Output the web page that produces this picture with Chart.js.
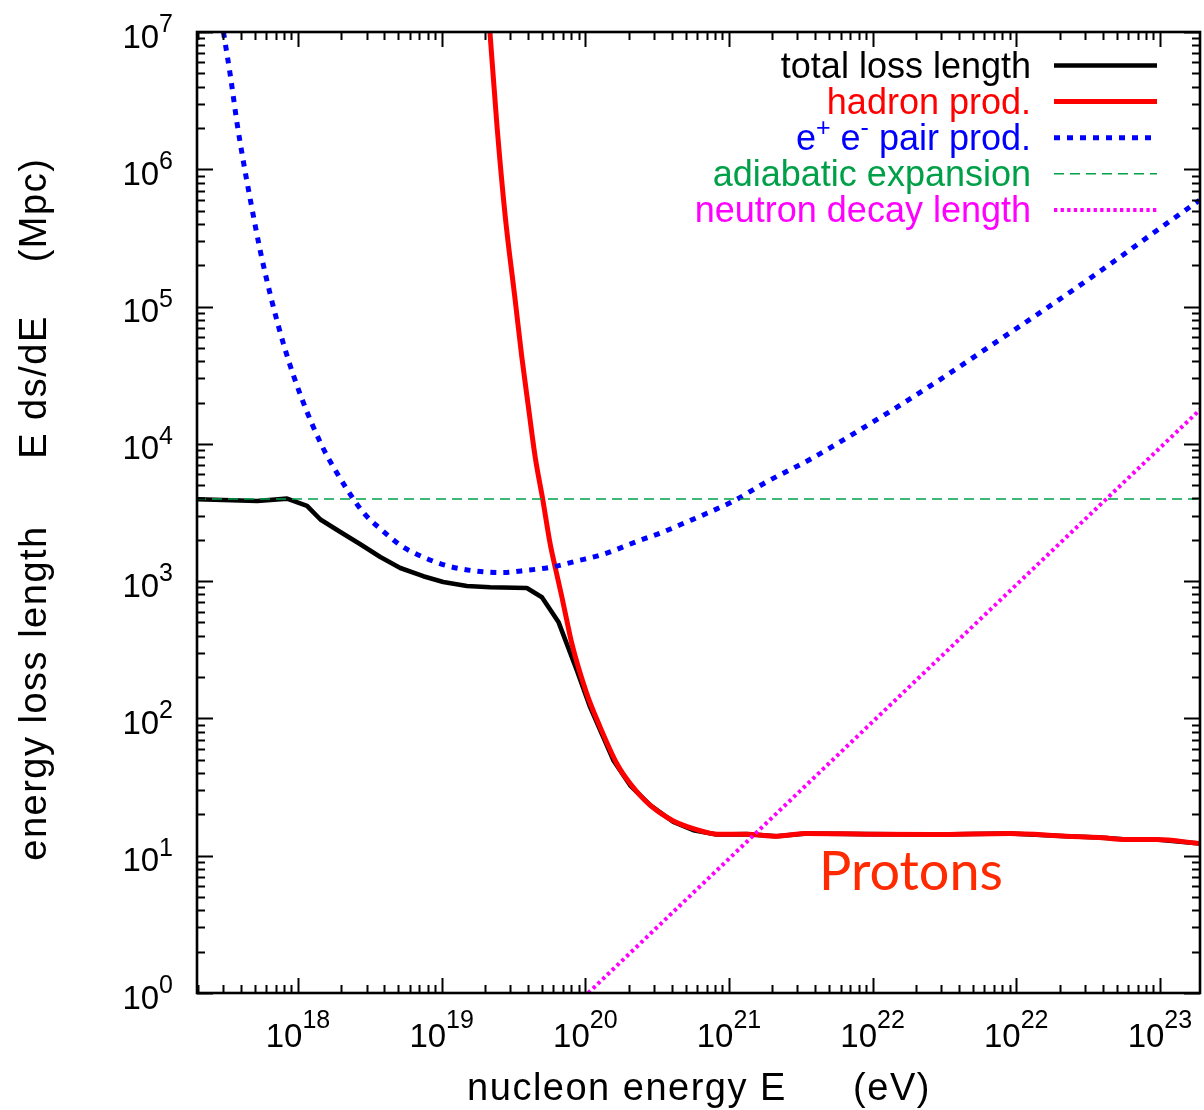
<!DOCTYPE html>
<html>
<head>
<meta charset="utf-8">
<title>Proton energy loss length</title>
<script src="https://cdn.jsdelivr.net/npm/chart.js@4.4.0/dist/chart.umd.min.js"></script>
<style>
  html, body { margin: 0; padding: 0; background: #fff; }
  #wrap { width: 1204px; height: 1110px; }
</style>
</head>
<body>
<div id="wrap"><canvas id="lossChart" width="1204" height="1110"></canvas></div>
<script>
// energies are log10(E / eV), lengths are log10(L / Mpc)
const totalLogE = [17.30, 17.716, 17.924, 18.063, 18.156, 18.295, 18.434, 18.573, 18.712, 18.872,
  19.011, 19.176, 19.338, 19.593, 19.698, 19.813, 19.941, 20.033, 20.195, 20.312, 20.451, 20.613,
  20.752, 20.914, 21.123, 21.332, 21.540, 21.958, 22.421, 22.954, 23.348, 23.580, 23.766, 23.974, 24.275];
const totalLogL = [3.596, 3.584, 3.601, 3.548, 3.449, 3.358, 3.269, 3.176, 3.096, 3.036,
  2.994, 2.965, 2.956, 2.950, 2.883, 2.703, 2.351, 2.084, 1.696, 1.513, 1.368, 1.246,
  1.186, 1.154, 1.157, 1.142, 1.162, 1.157, 1.154, 1.162, 1.142, 1.133, 1.118, 1.118, 1.089];

const hadronLogE = [19.334, 19.385, 19.442, 19.512, 19.558, 19.604, 19.651, 19.704, 19.755, 19.790,
  19.837, 19.871, 19.906, 20.010, 20.103, 20.219, 20.312, 20.451, 20.613, 20.752, 20.926, 21.123,
  21.332, 21.540, 21.958, 22.421, 22.954, 23.348, 23.580, 23.766, 23.974, 24.275];
const hadronLogL = [7.03, 6.320, 5.664, 5.046, 4.633, 4.269, 3.905, 3.594, 3.274, 3.103,
  2.885, 2.715, 2.546, 2.181, 1.938, 1.672, 1.526, 1.368, 1.253, 1.198, 1.157, 1.157,
  1.142, 1.162, 1.157, 1.154, 1.162, 1.142, 1.133, 1.118, 1.118, 1.089];

const pairLogE = [17.481, 17.530, 17.577, 17.622, 17.669, 17.739, 17.820, 17.912, 18.029, 18.168,
  18.260, 18.353, 18.457, 18.585, 18.724, 18.886, 19.048, 19.234, 19.419, 19.593, 19.767, 19.941,
  20.126, 20.369, 20.532, 20.706, 20.868, 21.030, 21.262, 21.575, 21.888, 22.201, 22.497, 22.792,
  23.093, 23.394, 23.684, 23.974, 24.275];
const pairLogL = [7.0, 6.677, 6.328, 6.044, 5.774, 5.398, 5.033, 4.682, 4.323, 3.983,
  3.808, 3.650, 3.497, 3.371, 3.254, 3.169, 3.109, 3.074, 3.063, 3.079, 3.103, 3.147,
  3.196, 3.293, 3.354, 3.431, 3.504, 3.582, 3.723, 3.893, 4.087, 4.288, 4.487, 4.694,
  4.905, 5.119, 5.332, 5.551, 5.774];

const adiabaticLogE = [17.29, 24.28];
const adiabaticLogL = [3.598, 3.598];

const neutronLogE = [20.02, 24.28];
const neutronLogL = [0.0, 4.25];

const xTickValues = [1e18, 1e19, 1e20, 1e21, 1e22, 1e23, 1e24];
const xTickExps = ['18', '19', '20', '21', '22', '22', '23'];
const yTickValues = [1e0, 1e1, 1e2, 1e3, 1e4, 1e5, 1e6, 1e7];
const yTickExps = ['0', '1', '2', '3', '4', '5', '6', '7'];

const FONT = '"Liberation Sans", Arial, Helvetica, sans-serif';

function toPoints(logE, logL) {
  return logE.map((e, i) => ({ x: Math.pow(10, e), y: Math.pow(10, logL[i]) }));
}

const series = [
  { label: 'total loss length', text: 'total loss length', data: toPoints(totalLogE, totalLogL),
    color: '#000000', width: 4.6, dash: [], smooth: false, order: 5 },
  { label: 'hadron prod.', text: 'hadron prod.', data: toPoints(hadronLogE, hadronLogL),
    color: '#ff0000', width: 5, dash: [], smooth: true, order: 4 },
  { label: 'e+ e- pair prod.', text: 'e^+ e^- pair prod.', data: toPoints(pairLogE, pairLogL),
    color: '#0000ff', width: 5, dash: [6, 7], smooth: true, order: 3 },
  { label: 'adiabatic expansion', text: 'adiabatic expansion', data: toPoints(adiabaticLogE, adiabaticLogL),
    color: '#00a048', width: 1.5, dash: [10, 6], smooth: false, order: 2 },
  { label: 'neutron decay length', text: 'neutron decay length', data: toPoints(neutronLogE, neutronLogL),
    color: '#ff00ff', width: 4, dash: [3.3, 3.3], smooth: false, order: 1 }
];

// text with one-character superscripts marked by '^'
function drawRuns(ctx, text, x, y, size, supSize, raise, align) {
  const runs = [];
  for (let i = 0; i < text.length; i++) {
    if (text[i] === '^') { runs.push({ t: text[i + 1], sup: true }); i++; }
    else if (runs.length && !runs[runs.length - 1].sup) runs[runs.length - 1].t += text[i];
    else runs.push({ t: text[i], sup: false });
  }
  let total = 0;
  runs.forEach(r => {
    ctx.font = (r.sup ? supSize : size) + 'px ' + FONT;
    r.w = ctx.measureText(r.t).width;
    total += r.w;
  });
  let cx = align === 'right' ? x - total : align === 'center' ? x - total / 2 : x;
  ctx.textAlign = 'left';
  ctx.textBaseline = 'alphabetic';
  runs.forEach(r => {
    ctx.font = (r.sup ? supSize : size) + 'px ' + FONT;
    ctx.fillText(r.t, cx, r.sup ? y - raise : y);
    cx += r.w;
  });
}

const framePlugin = {
  id: 'framePlugin',
  afterDraw(chart) {
    const ctx = chart.ctx;
    const a = chart.chartArea;
    const xs = chart.scales.x;
    const ys = chart.scales.y;
    ctx.save();

    // tick marks on all four sides, pointing inwards
    ctx.strokeStyle = '#000';
    ctx.lineWidth = 2;
    ctx.setLineDash([]);
    ctx.beginPath();
    for (let d = 17; d <= 24; d++) {
      for (let m = 1; m <= 9; m++) {
        const v = m * Math.pow(10, d);
        if (v < xs.min || v > xs.max) continue;
        const px = Math.round(xs.getPixelForValue(v)) + 0.5;
        const len = m === 1 ? 15 : 8;
        ctx.moveTo(px, a.bottom); ctx.lineTo(px, a.bottom - len);
        ctx.moveTo(px, a.top); ctx.lineTo(px, a.top + len);
      }
    }
    for (let d = 0; d <= 7; d++) {
      for (let m = 1; m <= 9; m++) {
        const v = m * Math.pow(10, d);
        if (v < ys.min || v > ys.max) continue;
        const py = Math.round(ys.getPixelForValue(v)) + 0.5;
        const len = m === 1 ? 16 : 8;
        ctx.moveTo(a.left, py); ctx.lineTo(a.left + len, py);
        ctx.moveTo(a.right, py); ctx.lineTo(a.right - len, py);
      }
    }
    ctx.stroke();

    // frame
    ctx.lineWidth = 2.6;
    ctx.strokeRect(a.left, a.top, a.right - a.left, a.bottom - a.top);

    // tick labels
    ctx.fillStyle = '#000';
    xTickValues.forEach((v, i) => {
      const px = xs.getPixelForValue(v);
      drawRuns(ctx, '10^' + xTickExps[i][0] + '^' + xTickExps[i][1], px, 1046.5, 33, 25, 18.5, 'center');
    });
    yTickValues.forEach((v, i) => {
      const py = ys.getPixelForValue(v);
      drawRuns(ctx, '10^' + yTickExps[i], 173, py + 15.5, 33, 25, 15.5, 'right');
    });

    // axis titles
    ctx.font = '38px ' + FONT;
    ctx.letterSpacing = '1.5px';
    ctx.textAlign = 'center';
    ctx.textBaseline = 'alphabetic';
    ctx.fillText('nucleon energy E', 627, 1100);
    ctx.fillText('(eV)', 892, 1100);
    const yParts = [['energy loss length', 693], ['E ds/dE', 387], ['(Mpc)', 210]];
    yParts.forEach(p => {
      ctx.save();
      ctx.translate(46, p[1]);
      ctx.rotate(-Math.PI / 2);
      ctx.fillText(p[0], 0, 0);
      ctx.restore();
    });
    ctx.letterSpacing = '0px';

    // key, top right
    series.forEach((s, i) => {
      const base = 78 + i * 36.1;
      ctx.fillStyle = s.textColor || s.color;
      drawRuns(ctx, s.text, 1031, base, 36, 25, 14, 'right');
      ctx.strokeStyle = s.color;
      ctx.lineWidth = s.width;
      ctx.setLineDash(s.dash);
      ctx.beginPath();
      ctx.moveTo(1054, base - 12.5);
      ctx.lineTo(1157, base - 12.5);
      ctx.stroke();
    });
    ctx.setLineDash([]);

    // particle label
    ctx.fillStyle = '#ff2a00';
    ctx.font = '54px Lato, "Open Sans", sans-serif';
    ctx.textAlign = 'left';
    ctx.fillText('Protons', 819, 890);
    ctx.restore();
  }
};

new Chart(document.getElementById('lossChart').getContext('2d'), {
  type: 'line',
  data: {
    datasets: series.map(s => ({
      label: s.label,
      data: s.data,
      borderColor: s.color,
      borderWidth: s.width,
      borderDash: s.dash,
      borderCapStyle: 'butt',
      borderJoinStyle: 'round',
      pointRadius: 0,
      tension: 0,
      cubicInterpolationMode: s.smooth ? 'monotone' : 'default',
      fill: false,
      clip: 0,
      order: s.order
    }))
  },
  options: {
    responsive: false,
    animation: false,
    events: [],
    layout: { padding: { left: 197, right: 4, top: 32, bottom: 117 } },
    plugins: { legend: { display: false }, tooltip: { enabled: false }, title: { display: false } },
    scales: {
      x: {
        type: 'logarithmic',
        min: Math.pow(10, 17.297),
        max: Math.pow(10, 24.279),
        grid: { display: false, drawTicks: false },
        border: { display: false },
        ticks: { display: false }
      },
      y: {
        type: 'logarithmic',
        min: 1,
        max: 1e7,
        grid: { display: false, drawTicks: false },
        border: { display: false },
        ticks: { display: false }
      }
    }
  },
  plugins: [framePlugin]
});
</script>
</body>
</html>
